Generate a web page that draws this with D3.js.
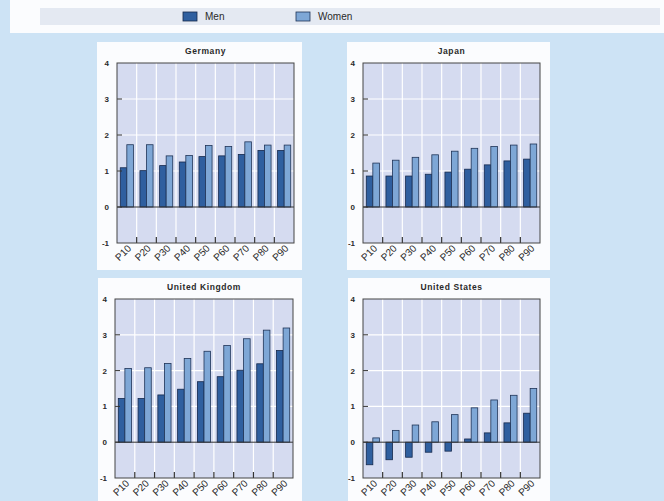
<!DOCTYPE html>
<html>
<head>
<meta charset="utf-8">
<script src="https://cdn.jsdelivr.net/npm/d3@7"></script>
<style>
  html, body { margin: 0; padding: 0; background: #cde3f5; }
  svg { display: block; }
  text { font-family: "Liberation Sans Narrow", "Liberation Sans", Arial, sans-serif; fill: #2a2a2a; }
</style>
</head>
<body>
<svg id="chart" width="664" height="501"></svg>
<script>
// Percentile categories shared by every panel
const categories = ["P10", "P20", "P30", "P40", "P50", "P60", "P70", "P80", "P90"];
const seriesNames = ["Men", "Women"];
const yTicks = [-1, 0, 1, 2, 3, 4];

// Values per country, one array per series
const germanyMen   = [1.09, 1.01, 1.15, 1.25, 1.40, 1.42, 1.46, 1.57, 1.57];
const germanyWomen = [1.73, 1.73, 1.42, 1.43, 1.71, 1.68, 1.81, 1.72, 1.72];
const japanMen     = [0.86, 0.86, 0.86, 0.91, 0.97, 1.05, 1.17, 1.28, 1.33];
const japanWomen   = [1.22, 1.30, 1.38, 1.45, 1.55, 1.63, 1.68, 1.72, 1.75];
const ukMen        = [1.22, 1.22, 1.32, 1.48, 1.69, 1.83, 2.01, 2.19, 2.56];
const ukWomen      = [2.06, 2.08, 2.20, 2.34, 2.54, 2.70, 2.89, 3.13, 3.19];
const usMen        = [-0.63, -0.49, -0.42, -0.28, -0.25, 0.09, 0.26, 0.54, 0.81];
const usWomen      = [0.12, 0.33, 0.48, 0.57, 0.77, 0.96, 1.18, 1.31, 1.50];

const countries = ["Germany", "Japan", "United Kingdom", "United States"];
const menValues = [germanyMen, japanMen, ukMen, usMen];
const womenValues = [germanyWomen, japanWomen, ukWomen, usWomen];

// Layout of the four panels: white card and inner plot rectangle
const panels = [
  { card: [97, 42, 205, 228],  plot: [117, 63, 177, 180] },
  { card: [347, 42, 203, 228], plot: [363, 63, 177, 180] },
  { card: [98, 278, 204, 230], plot: [115, 299, 178, 179] },
  { card: [348, 278, 202, 230], plot: [363, 299, 177, 179] }
];

const colors = { Men: "#2f5f9f", Women: "#7ea7d6" };
const strokes = { Men: "#15294d", Women: "#1f3457" };

const svg = d3.select("#chart");

// Top legend band
svg.append("rect").attr("x", 10).attr("y", 0).attr("width", 654).attr("height", 33).attr("fill", "#fbfcfe");
svg.append("rect").attr("x", 40).attr("y", 8).attr("width", 620).attr("height", 17).attr("fill", "#e4e9f2");
const legendX = { Men: 183, Women: 296 };
seriesNames.forEach(name => {
  const g = svg.append("g").attr("transform", `translate(${legendX[name]},12)`);
  g.append("rect").attr("width", 14).attr("height", 9)
    .attr("fill", colors[name]).attr("stroke", strokes[name]).attr("stroke-width", 0.8);
  g.append("text").attr("x", 22).attr("y", 8).attr("font-size", 10).attr("fill", "#3a3a3a").text(name);
});

countries.forEach((country, i) => {
  const p = panels[i];
  const [px, py, pw, ph] = p.plot;

  svg.append("rect")
    .attr("x", p.card[0]).attr("y", p.card[1])
    .attr("width", p.card[2]).attr("height", p.card[3])
    .attr("fill", "#fbfcfe");

  const x = d3.scaleBand().domain(categories).range([px, px + pw]).padding(0);
  const xs = d3.scaleBand().domain(seriesNames).range([0, x.bandwidth()]).paddingInner(0).paddingOuter(0.5);
  const y = d3.scaleLinear().domain([-1, 4]).range([py + ph, py]);

  const g = svg.append("g");

  // plot background
  g.append("rect").attr("x", px).attr("y", py).attr("width", pw).attr("height", ph).attr("fill", "#d5dbf0");

  // white grid: horizontal at integer levels, vertical at category boundaries
  g.selectAll(".hgrid").data(yTicks.filter(t => t > 0 && t < 4)).join("line")
    .attr("x1", px).attr("x2", px + pw)
    .attr("y1", d => y(d)).attr("y2", d => y(d))
    .attr("stroke", "#ffffff").attr("stroke-width", 1.2);
  g.selectAll(".vgrid").data(categories.slice(1)).join("line")
    .attr("x1", d => x(d)).attr("x2", d => x(d))
    .attr("y1", py).attr("y2", py + ph)
    .attr("stroke", "#ffffff").attr("stroke-width", 1.2);

  // bars
  const rows = categories.map((c, k) => ({ c, Men: menValues[i][k], Women: womenValues[i][k] }));
  seriesNames.forEach(s => {
    g.selectAll(".bar-" + s).data(rows).join("rect")
      .attr("x", d => x(d.c) + xs(s))
      .attr("width", xs.bandwidth())
      .attr("y", d => y(Math.max(0, d[s])))
      .attr("height", d => Math.abs(y(d[s]) - y(0)))
      .attr("fill", colors[s])
      .attr("stroke", strokes[s])
      .attr("stroke-width", 0.8);
  });

  // zero line
  g.append("line").attr("x1", px).attr("x2", px + pw).attr("y1", y(0)).attr("y2", y(0))
    .attr("stroke", "#333").attr("stroke-width", 1);

  // inward ticks
  g.selectAll(".ytick").data(yTicks.filter(t => t > -1 && t < 4)).join("line")
    .attr("x1", px).attr("x2", px + 5)
    .attr("y1", d => y(d)).attr("y2", d => y(d))
    .attr("stroke", "#333").attr("stroke-width", 1);
  g.selectAll(".xtick").data(categories.slice(1)).join("line")
    .attr("x1", d => x(d)).attr("x2", d => x(d))
    .attr("y1", py + ph).attr("y2", py + ph - 6)
    .attr("stroke", "#333").attr("stroke-width", 1.2);

  // frame
  g.append("rect").attr("x", px).attr("y", py).attr("width", pw).attr("height", ph)
    .attr("fill", "none").attr("stroke", "#444").attr("stroke-width", 1);

  // y tick labels
  g.selectAll(".ylab").data(yTicks).join("text")
    .attr("x", px - 8).attr("y", d => y(d) + 3)
    .attr("text-anchor", "end").attr("font-size", 8).attr("font-weight", "bold")
    .text(d => d);

  // x tick labels, rotated
  g.selectAll(".xlab").data(categories).join("text")
    .attr("transform", d => `translate(${x(d) + x.bandwidth() / 2 + 5},${py + ph + 6}) rotate(-45)`)
    .attr("text-anchor", "end").attr("font-size", 10)
    .style("font-family", "'Liberation Sans', Arial, sans-serif")
    .text(d => d);

  // panel title
  g.append("text").attr("x", px + pw / 2).attr("y", py - 9)
    .attr("text-anchor", "middle").attr("font-size", 8.5).attr("font-weight", "bold")
    .attr("letter-spacing", 0.6)
    .text(country);
});
</script>
</body>
</html>
